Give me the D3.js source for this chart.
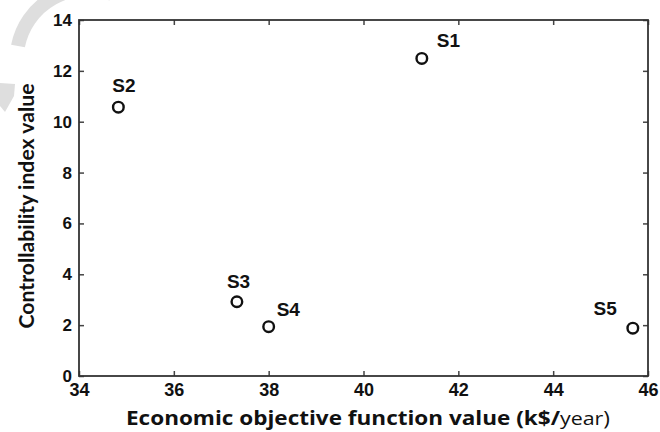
<!DOCTYPE html>
<html>
<head>
<meta charset="utf-8">
<script src="https://cdn.jsdelivr.net/npm/d3@7"></script>
<style>
  html, body { margin: 0; padding: 0; background: #fff; }
  svg { display: block; }
</style>
</head>
<body>
<svg id="chart" width="660" height="432"></svg>
<script>
// ---- data ----
const solutionNames = ["S1", "S2", "S3", "S4", "S5"];
const economicValues = [41.23, 34.83, 37.33, 38.0, 45.68];
const controllabilityValues = [12.49, 10.57, 2.92, 1.94, 1.88];
const xTicks = [34, 36, 38, 40, 42, 44, 46];
const yTicks = [0, 2, 4, 6, 8, 10, 12, 14];
const xTitle = "Economic objective function value ";
const xTitleUnitBold = "(k$/";
const xTitleUnitLight = "year";
const yTitle = "Controllability index value";

(function () {
// ---- layout ----
const svg = d3.select("#chart");
const pLeft = 79, pRight = 648, pTop = 20, pBottom = 376;

const x = d3.scaleLinear().domain([34, 46]).range([pLeft, pRight]);
const y = d3.scaleLinear().domain([0, 14]).range([pBottom, pTop]);

// faint watermark arrow (background artifact)
svg.append("path")
  .attr("d", "M18,46 A70,70 0 0 1 112,-6")
  .attr("fill", "none").attr("stroke", "#dedede")
  .attr("stroke-width", 14);
svg.append("path")
  .attr("d", "M0,83 L15,84 L14,96 L5,112 L0,106 Z")
  .attr("fill", "#dedede");

const tickFont = "'Liberation Sans', Arial, Helvetica, sans-serif";

// axes
const gx = svg.append("g").attr("transform", `translate(0,${pBottom})`)
  .call(d3.axisBottom(x).tickValues(xTicks).tickSize(-5).tickPadding(7).tickFormat(d3.format("d")));
const gy = svg.append("g").attr("transform", `translate(${pLeft},0)`)
  .call(d3.axisLeft(y).tickValues(yTicks).tickSize(-5).tickPadding(7).tickFormat(d3.format("d")));
const gt = svg.append("g").attr("transform", `translate(0,${pTop})`)
  .call(d3.axisTop(x).tickValues(xTicks).tickSize(-5).tickFormat(""));
const gr = svg.append("g").attr("transform", `translate(${pRight},0)`)
  .call(d3.axisRight(y).tickValues(yTicks).tickSize(-5).tickFormat(""));

[gx, gy, gt, gr].forEach(g => {
  g.select(".domain").remove();
  g.selectAll(".tick line").attr("stroke", "#444").attr("stroke-width", 1.5);
  g.selectAll(".tick text")
    .attr("fill", "#111")
    .style("font-family", tickFont)
    .style("font-weight", "bold");
});
gx.selectAll(".tick text").style("font-size", "18px");
gy.selectAll(".tick text").style("font-size", "17px");

// frame
svg.append("rect")
  .attr("x", pLeft).attr("y", pTop)
  .attr("width", pRight - pLeft).attr("height", pBottom - pTop)
  .attr("fill", "none").attr("stroke", "#333").attr("stroke-width", 1.8);

// points
const pts = solutionNames.map((n, i) => ({ name: n, ex: economicValues[i], cv: controllabilityValues[i] }));
svg.append("g").selectAll("circle").data(pts).join("circle")
  .attr("cx", d => x(d.ex)).attr("cy", d => y(d.cv))
  .attr("r", 5.3)
  .attr("fill", "none").attr("stroke", "#111").attr("stroke-width", 2.4);

// label placement (style only)
const place = {
  S1: { anchor: "start", dx: 15, dy: -11 },
  S2: { anchor: "start", dx: -6, dy: -15 },
  S3: { anchor: "start", dx: -10, dy: -14 },
  S4: { anchor: "start", dx: 8, dy: -11 },
  S5: { anchor: "end", dx: -16, dy: -13 }
};
svg.append("g").selectAll("text").data(pts).join("text")
  .attr("x", d => x(d.ex) + place[d.name].dx)
  .attr("y", d => y(d.cv) + place[d.name].dy)
  .attr("text-anchor", d => place[d.name].anchor)
  .attr("fill", "#111")
  .style("font-family", tickFont)
  .style("font-weight", "bold")
  .style("font-size", "19px")
  .text(d => d.name);

// axis titles
const xt = svg.append("text")
  .attr("x", 126).attr("y", 425)
  .attr("fill", "#111")
  .attr("textLength", 484)
  .attr("lengthAdjust", "spacingAndGlyphs")
  .style("font-family", "'Open Sans', Lato, sans-serif")
  .style("font-size", "20px");
xt.append("tspan").style("font-weight", "bold").text(xTitle);
xt.append("tspan").style("font-weight", "bold").text(xTitleUnitBold);
xt.append("tspan").style("font-weight", "normal").style("font-size", "19px").text(xTitleUnitLight);
xt.append("tspan").style("font-weight", "normal").text(")");

svg.append("text")
  .attr("transform", "translate(34,206) rotate(-90)")
  .attr("text-anchor", "middle")
  .attr("fill", "#111")
  .attr("textLength", 245)
  .attr("lengthAdjust", "spacingAndGlyphs")
  .style("font-family", "Lato, 'Open Sans', sans-serif")
  .style("font-weight", "bold")
  .style("font-size", "20px")
  .text(yTitle);
})();
</script>
</body>
</html>
